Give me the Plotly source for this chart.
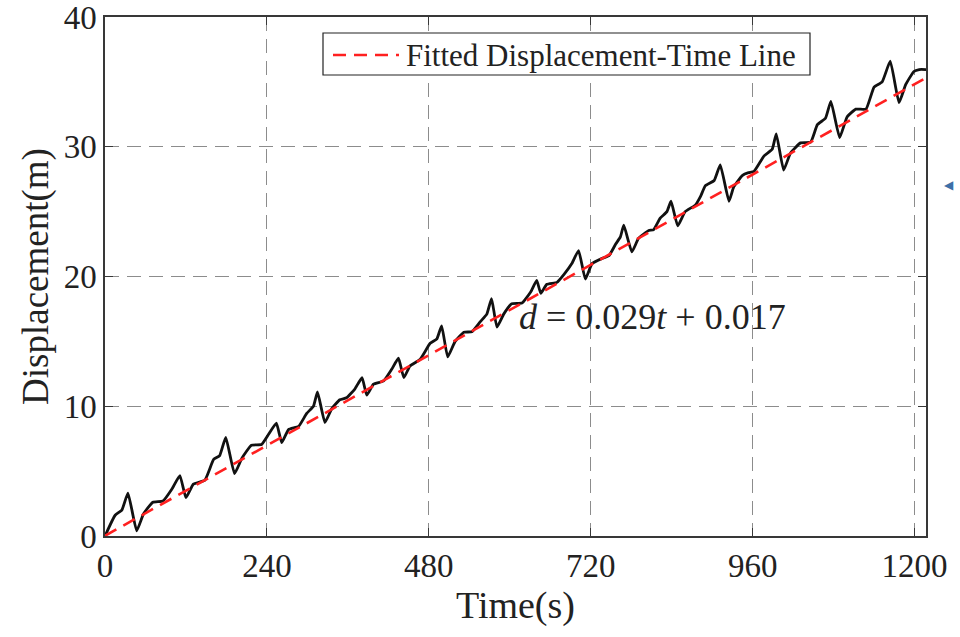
import plotly.graph_objects as go

time_s = [0, 15, 25, 34, 47, 57, 71, 86, 99, 111, 120, 131, 148, 161, 170, 179, 192, 203, 217, 232,
          242, 254, 262, 272, 287, 299, 309, 315, 326, 336, 348, 358, 370, 381, 388, 398, 413, 425,
          435, 443, 452, 467, 482, 492, 499, 508, 519, 532, 544, 556, 566, 573, 581, 591, 603, 618,
          631, 640, 646, 655, 670, 681, 692, 702, 712, 722, 737, 747, 757, 764, 769, 781, 791, 806,
          813, 823, 833, 839, 849, 860, 875, 883, 890, 903, 912, 925, 932, 945, 954, 962, 977, 989,
          995, 1006, 1016, 1031, 1046, 1056, 1068, 1076, 1089, 1100, 1113, 1128, 1140, 1152, 1164,
          1177, 1187, 1199, 1207, 1217]
disp_m = [0.0, 1.6, 2.0, 3.3, 0.4, 1.7, 2.6, 2.7, 3.6, 4.65, 2.95, 4.0, 4.3, 5.9, 6.2, 7.6, 4.8, 6.0,
          7.0, 7.05, 7.8, 8.7, 7.2, 8.2, 8.45, 9.45, 10.0, 11.1, 8.75, 9.8, 10.5, 10.65, 11.3, 12.2,
          10.85, 11.7, 11.95, 12.85, 13.7, 12.2, 13.1, 13.6, 14.85, 15.2, 16.2, 13.8, 15.0, 15.7,
          15.75, 16.5, 17.1, 18.3, 16.1, 17.1, 17.9, 17.95, 18.8, 19.7, 18.7, 19.4, 19.55, 20.2,
          21.0, 22.0, 19.8, 21.0, 21.4, 21.6, 22.5, 23.05, 23.95, 21.9, 22.95, 23.55, 23.6, 24.5,
          25.0, 25.8, 23.9, 25.0, 25.5, 26.2, 27.0, 27.4, 28.6, 25.8, 26.9, 27.8, 28.0, 28.1, 29.3,
          29.8, 31.0, 28.2, 29.5, 30.3, 30.35, 31.7, 32.2, 33.5, 30.7, 32.3, 32.9, 32.9, 34.6, 35.0,
          36.6, 33.4, 34.8, 35.8, 35.95, 35.95]

# fitted line endpoints (d = 0.029t + 0.017)
fit_t = [0, 1217]
fit_d = [0.017, 35.31]
fit_label = "Fitted Displacement-Time Line"

x_ticks = [0, 240, 480, 720, 960, 1200]
y_ticks = [0, 10, 20, 30, 40]

FONT = "Liberation Serif"
AX = "#383838"
TXT = "#222222"
RED = "#ff2020"

M_L, M_R, M_T, M_B = 105, 34, 17, 101
PW, PH = 960 - M_L - M_R, 637 - M_T - M_B

fig = go.Figure()
fig.add_trace(go.Scatter(x=time_s, y=disp_m, mode="lines",
                         line=dict(color="#111111", width=2.8, shape="spline", smoothing=0.4),
                         showlegend=False, hoverinfo="skip"))
fig.add_trace(go.Scatter(x=fit_t, y=fit_d, mode="lines", name=fit_label, showlegend=False,
                         line=dict(color=RED, width=2.6, dash="13px,8px")))

# equation label
fig.add_annotation(x=811, y=16.9, xref="x", yref="y",
                   text="<i>d</i> = 0.029<i>t</i> + 0.017", showarrow=False,
                   font=dict(family=FONT, size=36, color=TXT))

# legend box (drawn as a framed key, MATLAB style)
def px_x(px):
    return (px - M_L) / PW

def px_y(py):
    return 1 - (py - M_T) / PH

fig.add_shape(type="rect", xref="paper", yref="paper",
              x0=px_x(323), x1=px_x(810), y0=px_y(75), y1=px_y(33),
              line=dict(color="#222222", width=1.2), fillcolor="white", layer="above")
fig.add_shape(type="line", xref="paper", yref="paper",
              x0=px_x(333), x1=px_x(399), y0=px_y(55), y1=px_y(55),
              line=dict(color=RED, width=2.6, dash="13px,8px"), layer="above")
fig.add_annotation(x=px_x(404), y=px_y(55), xref="paper", yref="paper", xanchor="left",
                   yanchor="middle", text=fit_label, showarrow=False,
                   font=dict(family=FONT, size=31, color=TXT))

fig.add_annotation(x=px_x(956), y=px_y(176), xref="paper", yref="paper", text="◀", showarrow=False,
                   font=dict(family="DejaVu Sans", size=12, color="#3d6fa8"))

axis_common = dict(showline=True, linecolor=AX, linewidth=1.5, mirror="ticks",
                   ticks="inside", ticklen=8, tickcolor=AX, tickwidth=1.2,
                   showgrid=True, gridcolor="#8c8c8c", gridwidth=1, griddash="14px,8px",
                   zeroline=False, ticklabeloverflow="allow", automargin=False,
                   tickfont=dict(family=FONT, size=33, color=TXT))

fig.update_xaxes(range=[0, 1217], tickvals=x_ticks, ticktext=[str(v) for v in x_ticks],
                 title=dict(text="Time(s)", font=dict(family=FONT, size=38, color=TXT), standoff=2),
                 **axis_common)
fig.update_yaxes(range=[0, 40], tickvals=y_ticks, ticktext=[str(v) for v in y_ticks],
                 title=dict(text="Displacement(m)", font=dict(family=FONT, size=37, color=TXT), standoff=4),
                 **axis_common)

fig.update_layout(
    width=960, height=637,
    margin=dict(l=M_L, r=M_R, t=M_T, b=M_B, autoexpand=False),
    paper_bgcolor="white", plot_bgcolor="white",
    showlegend=False,
)

fig.write_html("out.html")
